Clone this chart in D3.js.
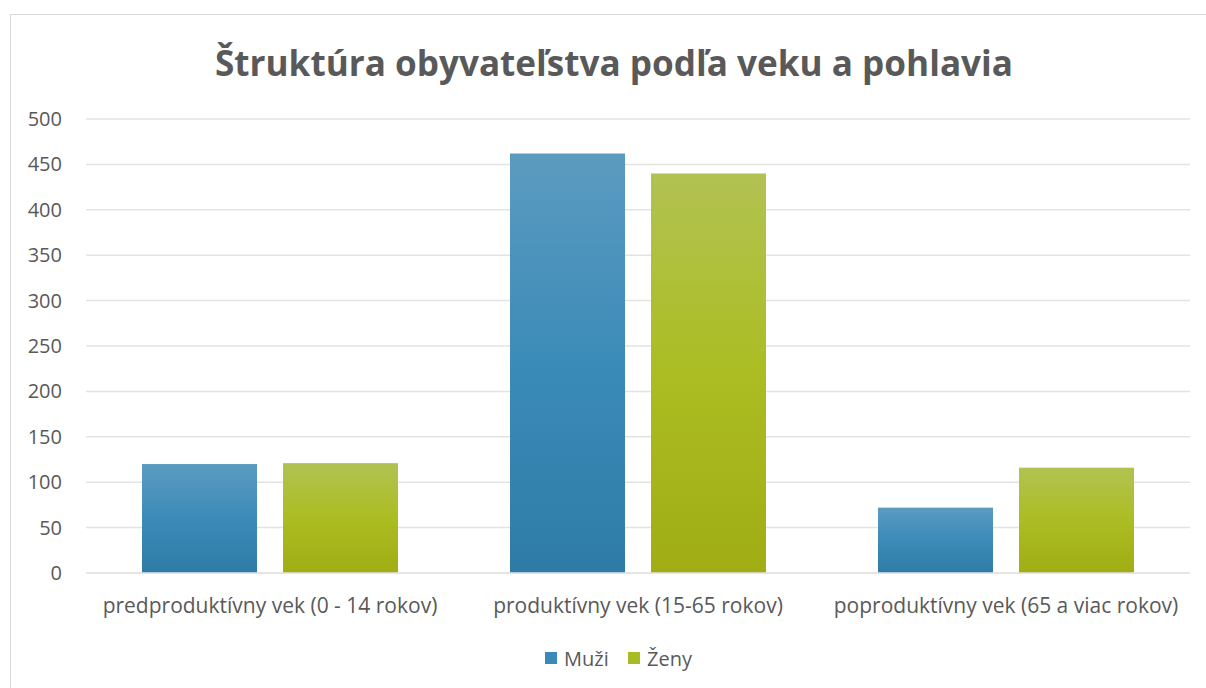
<!DOCTYPE html>
<html><head><meta charset="utf-8">
<script src="https://cdn.jsdelivr.net/npm/d3@7"></script>
<style>body{margin:0;background:#fff;}svg{display:block;}</style>
</head><body>
<svg id="c" width="1206" height="688"></svg>
<script>
const categories = ["predproduktívny vek (0 - 14 rokov)", "produktívny vek (15-65 rokov)", "poproduktívny vek (65 a viac rokov)"];
const series = ["Muži", "Ženy"];
const muzi = [120, 462, 72];
const zeny = [121, 440, 116];
const yTicks = [0, 50, 100, 150, 200, 250, 300, 350, 400, 450, 500];
const title = "Štruktúra obyvateľstva podľa veku a pohlavia";

(function(){
const svg = d3.select("#c");
const font = "'Open Sans', sans-serif";
const txt = "#595959";

svg.append("rect").attr("x",10.5).attr("y",14.5).attr("width",1210).attr("height",700)
  .attr("fill","#fff").attr("stroke","#d9d9d9").attr("stroke-width",1);

const defs = svg.append("defs");
function grad(id, c0, c1, c2){
  const g = defs.append("linearGradient").attr("id",id).attr("x1",0).attr("y1",0).attr("x2",0).attr("y2",1);
  g.append("stop").attr("offset","0%").attr("stop-color",c0);
  g.append("stop").attr("offset","50%").attr("stop-color",c1);
  g.append("stop").attr("offset","100%").attr("stop-color",c2);
}
grad("gM","#5c9bc0","#3b8bb8","#2e7ba7");
grad("gZ","#b2c252","#abbd22","#a0ad14");
const fills = {"Muži":"url(#gM)","Ženy":"url(#gZ)"};
const legendFills = {"Muži":"#3a89b6","Ženy":"#a9bb22"};

const pL = 86, pR = 1190, pT = 119, pB = 573;
const y = d3.scaleLinear().domain([0,500]).range([pB, pT]);
const x0 = d3.scaleBand().domain(categories).range([pL, pR]);
const x1 = d3.scaleBand().domain(series).range([56, x0.bandwidth()-56]).paddingInner(0.1844);

svg.append("g").selectAll("line").data(yTicks).join("line")
  .attr("x1",pL).attr("x2",pR)
  .attr("y1",d=>y(d)).attr("y2",d=>y(d))
  .attr("stroke","#e3e3e3").attr("stroke-width",1.5);

svg.append("g").selectAll("text").data(yTicks).join("text")
  .attr("x",62).attr("y",d=>y(d)+7).attr("text-anchor","end")
  .attr("font-family",font).attr("font-size",20).attr("fill",txt).text(d=>d);

const data = categories.map((c,i)=>({c, vals:[{s:"Muži",v:muzi[i]},{s:"Ženy",v:zeny[i]}]}));
const gs = svg.append("g").selectAll("g").data(data).join("g")
  .attr("transform",d=>`translate(${x0(d.c)},0)`);
gs.selectAll("rect").data(d=>d.vals).join("rect")
  .attr("x",d=>x1(d.s)).attr("width",x1.bandwidth())
  .attr("y",d=>y(d.v)).attr("height",d=>y(0)-y(d.v))
  .attr("fill",d=>fills[d.s]);

svg.append("line").attr("x1",pL).attr("x2",pR).attr("y1",y(0)).attr("y2",y(0))
  .attr("stroke","#e3e3e3").attr("stroke-width",1.5);

svg.append("g").selectAll("text").data(categories).join("text")
  .attr("x",d=>x0(d)+x0.bandwidth()/2).attr("y",613).attr("text-anchor","middle")
  .attr("font-family",font).attr("font-size",21).attr("fill",txt).text(d=>d);

svg.append("text").attr("x",614).attr("y",76).attr("text-anchor","middle")
  .attr("font-family",font).attr("font-size",35).attr("font-weight","bold").attr("fill",txt)
  .attr("textLength",798).attr("lengthAdjust","spacingAndGlyphs").text(title);

const lg = svg.append("g");
const legX = [545, 628];
series.forEach((s,i)=>{
  lg.append("rect").attr("x",legX[i]).attr("y",652).attr("width",12).attr("height",12).attr("fill",legendFills[s]);
  lg.append("text").attr("x",legX[i]+19).attr("y",666).attr("font-family",font).attr("font-size",20)
    .attr("fill",txt).text(s);
});
})();
</script>
</body></html>
